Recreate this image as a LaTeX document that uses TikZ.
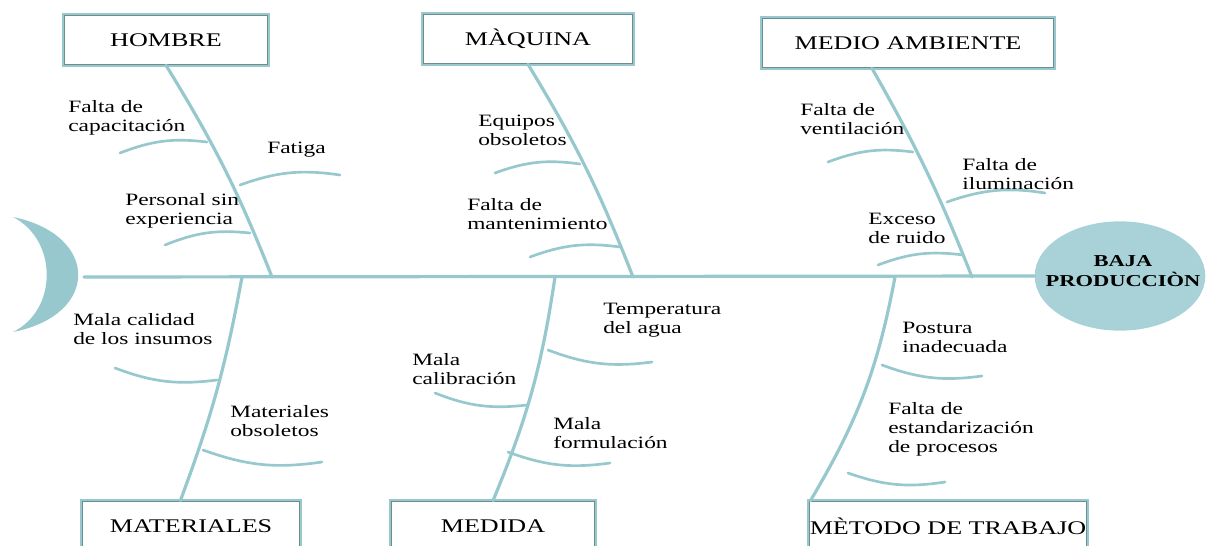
\documentclass[tikz,border=0pt]{standalone}
\usepackage{fontspec}
\setmainfont[FakeStretch=1.35]{Liberation Serif}
\usetikzlibrary{positioning,shapes.geometric}
\definecolor{espinacolor}{RGB}{150,200,205}
\definecolor{cabezacolor}{RGB}{168,210,216}
\definecolor{bordecolor}{RGB}{110,140,140}
\tikzset{mybox/.style = {draw=bordecolor, line width=1pt, fill=white,
    preaction={draw=espinacolor, line width=4pt},
    minimum height=37pt, inner sep=0pt, font=\fontsize{14.5}{16}\selectfont},
  mybone/.style = {draw=espinacolor, line width=2.4pt, line cap=round},
  mytwig/.style = {draw=espinacolor, line width=2pt, line cap=round},
  mylabel/.style = {anchor=north west, inner sep=0pt, align=left,
    font=\fontsize{13}{14.3}\selectfont}}
\NewDocumentCommand{\ftwig}{O{left} m m m}{%
	\coordinate (#2-a) at (#3);
	\coordinate (#2-b) at (#4);
	\draw[mytwig] (#2-a) to[bend #1=14] (#2-b);
}

\begin{document}
\begin{tikzpicture}[x=0.75pt, y=0.75pt]
\useasboundingbox (0,0) rectangle (1218,-546);
% cabeza y cola
\node[ellipse, fill=cabezacolor, minimum width=128pt, minimum height=82pt] (efecto) at (1120,-276) {};
\node[align=center, inner sep=0pt, font=\bfseries\fontsize{12.5}{15}\selectfont] (efectotxt) at (1123,-271) {BAJA\\PRODUCCIÒN};
\fill[espinacolor] (13,-217) .. controls (100,-235) and (100,-315) .. (13,-332)
	.. controls (58,-310) and (58,-240) .. (13,-217) -- cycle;
\coordinate (cola) at (84,-277);
\draw[mybone] (cola) -- (efecto.west);
% categorias
\node[mybox, minimum width=152pt] (hombre) at (166,-40) {HOMBRE};
\node[mybox, minimum width=157pt] (maquina) at (528,-39) {MÀQUINA};
\node[mybox, minimum width=218pt] (ambiente) at (908,-43) {MEDIO AMBIENTE};
\node[mybox, minimum width=163pt] (materiales) at (191,-526) {MATERIALES};
\node[mybox, minimum width=152pt] (medida) at (493,-526) {MEDIDA};
\node[mybox, minimum width=175pt] (metodo) at (948,-526) {MÈTODO DE TRABAJO};
% espinas
\coordinate (h0) at (272,-277);
\coordinate (q0) at (633,-277);
\coordinate (a0) at (972,-277);
\coordinate (m0) at (242,-277);
\coordinate (d0) at (555,-277);
\coordinate (t0) at (895,-277);
\draw[mybone] (hombre.south) to[bend left=5] (h0);
\draw[mybone] (maquina.south) to[bend left=5] (q0);
\draw[mybone] ([xshift=-27pt]ambiente.south) to[bend left=4] (a0);
\draw[mybone] (m0) to[bend left=5] ([xshift=-8pt]materiales.north);
\draw[mybone] (d0) to[bend left=7] (medida.north);
\draw[mybone] (t0) to[bend left=10] ([xshift=1pt]metodo.north west);
% causas
\ftwig{c1}{120,-153}{207,-142}
\ftwig{c2}{240,-185}{340,-175}
\ftwig{c3}{165,-245}{250,-233}
\ftwig{c4}{495,-173}{580,-164}
\ftwig{c5}{530,-257}{620,-247}
\ftwig{c6}{828,-162}{913,-152}
\ftwig{c7}{947,-202}{1045,-193}
\ftwig{c8}{878,-265}{963,-255}
\ftwig[right]{c9}{115,-368}{217,-380}
\ftwig[right]{c10}{203,-450}{322,-462}
\ftwig[right]{c11}{548,-350}{652,-362}
\ftwig[right]{c12}{435,-393}{527,-405}
\ftwig[right]{c13}{508,-452}{610,-463}
\ftwig[right]{c14}{882,-365}{982,-376}
\ftwig[right]{c15}{848,-473}{945,-482}
\node[mylabel] (capacitacion) at (68,-100) {Falta de\\capacitación};
\node[mylabel] (fatiga) at (267,-142) {Fatiga};
\node[mylabel] (personal) at (125,-193) {Personal sin\\experiencia};
\node[mylabel] (equipos) at (478,-115) {Equipos\\obsoletos};
\node[mylabel] (mantenimiento) at (467,-198) {Falta de\\mantenimiento};
\node[mylabel] (ventilacion) at (800,-103) {Falta de\\ventilación};
\node[mylabel] (iluminacion) at (962,-158) {Falta de\\iluminación};
\node[mylabel] (ruido) at (868,-213) {Exceso\\de ruido};
\node[mylabel] (insumos) at (73,-313) {Mala calidad\\de los insumos};
\node[mylabel] (obsoletos) at (230,-405) {Materiales\\obsoletos};
\node[mylabel] (temperatura) at (603,-303) {Temperatura\\del agua};
\node[mylabel] (calibracion) at (412,-353) {Mala\\calibración};
\node[mylabel] (formulacion) at (553,-417) {Mala\\formulación};
\node[mylabel] (postura) at (902,-322) {Postura\\inadecuada};
\node[mylabel] (estandar) at (888,-402) {Falta de\\estandarización\\de procesos};
\end{tikzpicture}
\end{document}
